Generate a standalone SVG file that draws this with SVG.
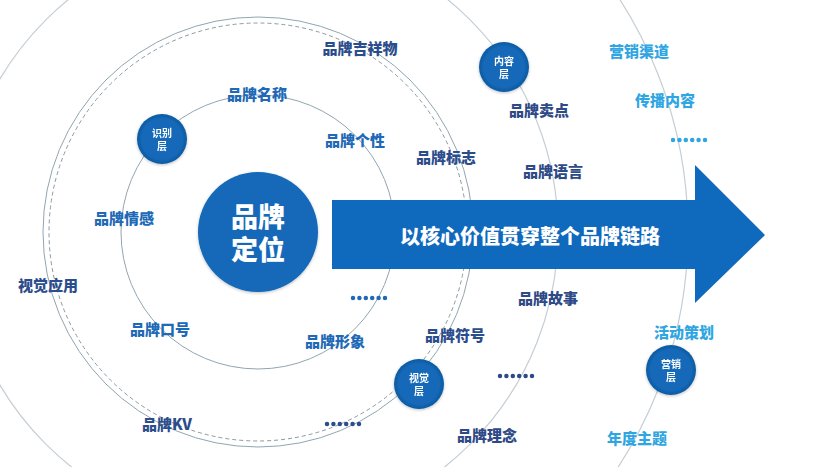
<svg xmlns="http://www.w3.org/2000/svg" width="832" height="467" viewBox="0 0 832 467">
<style>
.ring{fill:none;stroke:#8fa6b2;stroke-width:1}
.ring-light{fill:none;stroke:#c5ced4;stroke-width:1.2}
.dash{fill:none;stroke:#8a98a2;stroke-width:1;stroke-dasharray:4 3}
.lbl{font-family:"Noto Sans CJK SC","Noto Sans",sans-serif;font-weight:900;font-size:15px;text-anchor:middle;dominant-baseline:central}
.c1{fill:#2069b6}
.c2{fill:#2c4d8c}
.c3{fill:#2e4a86}
.c4{fill:#2fa6e2}
.node{fill:url(#ng)}
.nt{font-family:"Liberation Sans","Noto Sans CJK SC",sans-serif;font-weight:700;font-size:10px;fill:#fff;text-anchor:middle}
.ct{font-family:"Liberation Sans","Noto Sans CJK SC",sans-serif;font-weight:900;font-size:27px;fill:#fff;text-anchor:middle}
.dots{stroke-linecap:round;stroke-width:4.5;stroke-dasharray:0 6.4;fill:none}
</style>
<defs>
<radialGradient id="ng" cx="0.5" cy="0.5" r="0.5">
<stop offset="0.8" stop-color="#1469b8"/>
<stop offset="1" stop-color="#0d5aa2"/>
</radialGradient>
<filter id="sh" x="-30%" y="-30%" width="160%" height="160%">
<feDropShadow dx="0" dy="1" stdDeviation="1.5" flood-color="#000" flood-opacity="0.25"/>
</filter>
</defs>
<rect width="832" height="467" fill="#fff"/>
<g id="rings">
<circle class="ring-light" cx="258" cy="232" r="430"/>
<circle class="ring-light" cx="258" cy="232" r="300"/>
<circle class="ring" cx="258" cy="232" r="215"/>
<circle class="dash" cx="258" cy="232" r="209"/>
<circle class="ring" cx="258" cy="232" r="137"/>
</g>
<g id="connectors">
<path id="arrow" d="M332,200 H695 V165 L765,235 L695,303 V269 H332 Z" fill="#0f69bd"/>
</g>
<g id="arrow-label">
<text x="530" y="235" font-family="'Noto Sans CJK SC','Noto Sans',sans-serif" font-weight="900" font-size="20" fill="#fff" text-anchor="middle" dominant-baseline="central">以核心价值贯穿整个品牌链路</text>
</g>
<g id="center">
<circle cx="258" cy="232" r="60" fill="#1368b8" filter="url(#sh)"/>
<text class="ct"><tspan x="258" y="227">品牌</tspan><tspan x="258" y="260">定位</tspan></text>
</g>
<g id="node-shibie" filter="url(#sh)">
<circle class="node" cx="162" cy="139" r="25"/>
<text class="nt"><tspan x="162" y="136.5">识别</tspan><tspan x="162" y="149.5">层</tspan></text>
</g>
<g id="node-neirong" filter="url(#sh)">
<circle class="node" cx="504" cy="67" r="25"/>
<text class="nt"><tspan x="504" y="64.5">内容</tspan><tspan x="504" y="77.5">层</tspan></text>
</g>
<g id="node-shijue" filter="url(#sh)">
<circle class="node" cx="419" cy="384" r="25"/>
<text class="nt"><tspan x="419" y="381.5">视觉</tspan><tspan x="419" y="394.5">层</tspan></text>
</g>
<g id="node-yingxiao" filter="url(#sh)">
<circle class="node" cx="671" cy="370" r="25"/>
<text class="nt"><tspan x="671" y="367.5">营销</tspan><tspan x="671" y="380.5">层</tspan></text>
</g>
<g id="labels">
<text class="lbl c2" x="360" y="47">品牌吉祥物</text>
<text class="lbl c1" x="257" y="93">品牌名称</text>
<text class="lbl c1" x="355" y="139">品牌个性</text>
<text class="lbl c1" x="124" y="217">品牌情感</text>
<text class="lbl c2" x="48" y="284">视觉应用</text>
<text class="lbl c1" x="160" y="328">品牌口号</text>
<text class="lbl c1" x="335" y="340">品牌形象</text>
<text class="lbl c2" x="167" y="423">品牌KV</text>
<text class="lbl c2" x="446" y="156">品牌标志</text>
<text class="lbl c3" x="539" y="109">品牌卖点</text>
<text class="lbl c3" x="553" y="170">品牌语言</text>
<text class="lbl c3" x="548" y="297">品牌故事</text>
<text class="lbl c2" x="455" y="334">品牌符号</text>
<text class="lbl c3" x="487" y="434">品牌理念</text>
<text class="lbl c4" x="639" y="50">营销渠道</text>
<text class="lbl c4" x="665" y="99">传播内容</text>
<text class="lbl c4" x="684" y="331">活动策划</text>
<text class="lbl c4" x="637" y="437">年度主题</text>
</g>
<g id="ellipses">
<path class="dots" stroke="#2069b6" d="M353,298 H391"/>
<path class="dots" stroke="#2c4d8c" d="M327,424 H365"/>
<path class="dots" stroke="#2e4a86" d="M500,376 H538"/>
<path class="dots" stroke="#2fa6e2" d="M673,140 H711"/>
</g>
</svg>
